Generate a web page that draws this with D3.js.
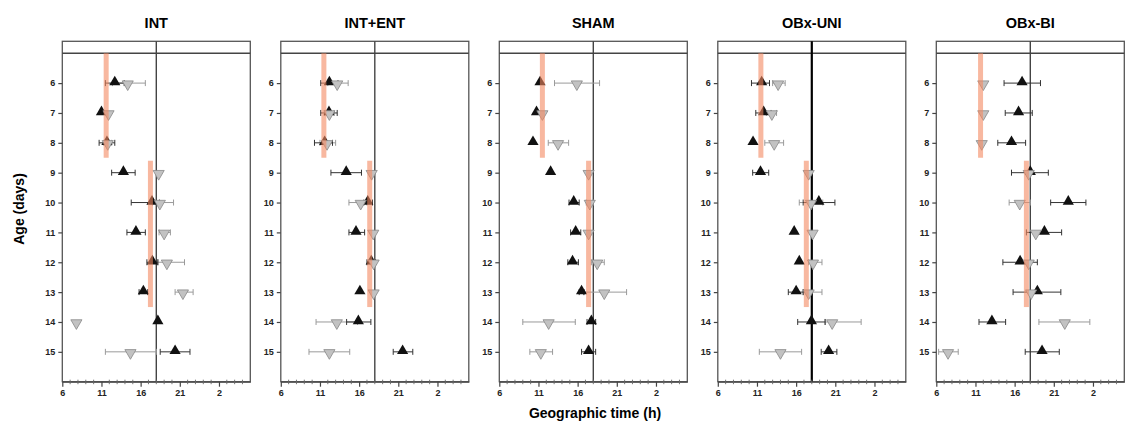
<!DOCTYPE html>
<html>
<head>
<meta charset="utf-8">
<script src="https://cdn.jsdelivr.net/npm/d3@7"></script>
<style>
  body { margin: 0; background: #fff; }
  svg { font-family: "Liberation Sans", Arial, sans-serif; }
  .tick text { font-size: 9px; font-weight: bold; fill: #222; }
</style>
</head>
<body>
<svg id="chart" width="1130" height="421"></svg>
<script>
const groups = ["INT", "INT+ENT", "SHAM", "OBx-UNI", "OBx-BI"];
const days = [6, 7, 8, 9, 10, 11, 12, 13, 14, 15];
const hourTicks = [6, 11, 16, 21, 26];

// black up triangles (mean + error range), one row per group, days 6..15
const blackMean = [
  [12.7, 11.0, 11.7, 13.8, 17.45, 15.4, 17.5, 16.35, 18.2, 20.4],
  [12.2, 12.15, 11.6, 14.35, 17.1, 15.6, 17.55, 16.1, 15.9, 21.55],
  [11.2, 10.75, 10.3, 12.55, 15.5, 15.75, 15.35, 16.5, 17.75, 17.4],
  [11.6, 11.85, 10.5, 11.45, 18.9, 15.75, 16.4, 16.0, 17.95, 20.15],
  [16.95, 16.5, 15.6, 18.0, 22.85, 19.8, 16.7, 18.9, 13.1, 19.5]
];
const blackLo = [
  [11.5, 11.0, 10.7, 12.3, 14.8, 14.25, 16.8, 15.8, 18.2, 18.5],
  [11.1, 11.1, 10.3, 12.4, 16.6, 14.7, 17.0, 16.1, 14.4, 20.35],
  [11.2, 10.75, 10.3, 12.55, 14.9, 15.1, 14.75, 16.2, 17.2, 16.5],
  [10.3, 10.85, 10.5, 10.45, 16.9, 15.75, 16.4, 15.0, 16.2, 19.2],
  [14.65, 14.8, 13.85, 15.6, 20.6, 17.5, 14.5, 15.8, 11.45, 17.35]
];
const blackHi = [
  [13.9, 11.0, 12.7, 15.3, 18.4, 16.6, 18.2, 16.9, 18.2, 22.3],
  [13.3, 13.2, 12.6, 16.3, 17.7, 16.7, 18.1, 16.1, 17.5, 22.85],
  [11.2, 10.75, 10.3, 12.55, 16.2, 16.4, 16.1, 16.8, 18.3, 18.3],
  [12.6, 12.8, 10.5, 12.5, 20.95, 15.75, 16.4, 16.9, 19.7, 21.2],
  [19.3, 18.25, 17.4, 20.3, 25.1, 22.0, 18.9, 21.9, 14.85, 21.7]
];

// grey down triangles
const greyMean = [
  [14.35, 11.9, 11.8, 18.3, 18.45, 19.0, 19.35, 21.4, 7.8, 14.7],
  [13.2, 12.2, 11.9, 17.6, 16.2, 17.8, 17.85, 17.85, 13.15, 12.2],
  [15.9, 11.5, 13.5, 17.4, 17.55, 17.4, 18.5, 19.4, 12.3, 11.3],
  [13.7, 12.9, 13.2, 17.6, 17.9, 18.1, 18.15, 17.6, 20.6, 14.0],
  [12.0, 12.0, 11.8, 17.8, 16.65, 18.7, 17.8, 18.1, 22.4, 7.5]
];
const greyLo = [
  [12.4, 11.9, 11.3, 18.3, 17.5, 18.35, 18.2, 20.4, 7.8, 11.5],
  [12.0, 11.6, 11.0, 17.6, 14.7, 17.8, 17.85, 17.85, 10.5, 9.6],
  [13.05, 11.5, 12.25, 17.4, 17.1, 17.4, 17.75, 16.8, 9.0, 9.9],
  [13.0, 12.2, 12.0, 17.6, 16.4, 18.1, 17.6, 16.9, 19.7, 11.3],
  [12.0, 12.0, 11.8, 17.8, 15.3, 18.7, 17.8, 18.1, 19.1, 6.3]
];
const greyHi = [
  [16.6, 11.9, 12.3, 18.3, 20.2, 19.8, 21.6, 22.7, 7.8, 18.0],
  [14.6, 12.8, 13.0, 17.6, 17.0, 17.8, 17.85, 17.85, 15.8, 14.8],
  [18.8, 11.5, 14.85, 17.4, 18.0, 17.4, 19.4, 22.25, 15.7, 12.8],
  [14.6, 13.5, 14.4, 17.6, 19.4, 18.1, 19.3, 19.3, 24.3, 16.7],
  [12.0, 12.0, 11.8, 17.8, 18.0, 18.7, 17.8, 18.1, 25.6, 8.8]
];

// shaded phase bands (hour) : days 5-8.5 and 8.6-13.5
const bandEarly = [11.6, 11.5, 11.5, 11.5, 11.65];
const bandLate = [17.25, 17.35, 17.4, 17.3, 17.5];
const bandDays = [[5, 8.5], [8.6, 13.5]];
const refHour = 18;

const svg = d3.select("#chart");
const panelW = 188, panelTop = 41.3, panelBottom = 381.7;
const firstLeft = 62.3, step = 218.5;

const x = d3.scaleLinear().domain([6, 30]).range([0, panelW]);
const y = d3.scaleLinear().domain([4.6, 16]).range([panelTop, panelBottom]);

groups.forEach(function (name, gi) {
  const g = svg.append("g").attr("transform", "translate(" + (firstLeft + gi * step) + ",0)");

  // frame + header line
  g.append("rect")
    .attr("x", 0).attr("y", panelTop)
    .attr("width", panelW).attr("height", panelBottom - panelTop)
    .attr("fill", "none").attr("stroke", "#555").attr("stroke-width", 1.3);
  g.append("line")
    .attr("x1", 0).attr("x2", panelW)
    .attr("y1", y(5)).attr("y2", y(5))
    .attr("stroke", "#444").attr("stroke-width", 1.3);

  // reference line at 18h (OBx-UNI one is darker/thicker)
  g.append("line")
    .attr("x1", x(refHour)).attr("x2", x(refHour))
    .attr("y1", panelTop).attr("y2", panelBottom)
    .attr("stroke", gi === 3 ? "#000" : "#444")
    .attr("stroke-width", gi === 3 ? 2.2 : 1.4);

  // x axis
  const xAxis = d3.axisBottom(x)
    .tickValues(hourTicks)
    .tickFormat(function (h) { return h >= 24 ? h - 24 : h; })
    .tickSizeInner(5).tickSizeOuter(0).tickPadding(3);
  const ax = g.append("g").attr("transform", "translate(0," + panelBottom + ")").call(xAxis);
  ax.select(".domain").attr("stroke", "#444").attr("stroke-width", 1.3);
  ax.selectAll(".tick line").attr("stroke", "#444").attr("stroke-width", 1.2);

  // minor hour ticks
  g.append("g").selectAll("line")
    .data(d3.range(7, 30).filter(function (h) { return hourTicks.indexOf(h) < 0; }))
    .enter().append("line")
    .attr("x1", function (d) { return x(d); }).attr("x2", function (d) { return x(d); })
    .attr("y1", panelBottom - 2).attr("y2", panelBottom + 2.5)
    .attr("stroke", "#666").attr("stroke-width", 0.9);

  // y axis
  const yAxis = d3.axisLeft(y).tickValues(days).tickSizeInner(4).tickSizeOuter(0).tickPadding(3);
  const ay = g.append("g").call(yAxis);
  ay.select(".domain").remove();
  ay.selectAll(".tick line").attr("stroke", "#444").attr("stroke-width", 1.2);

  // title
  g.append("text")
    .attr("x", panelW / 2).attr("y", 28)
    .attr("text-anchor", "middle")
    .attr("font-size", 14.5).attr("font-weight", "bold")
    .text(name);

  const rows = days.map(function (d, i) {
    return {
      day: d,
      bm: blackMean[gi][i], bl: blackLo[gi][i], bh: blackHi[gi][i],
      gm: greyMean[gi][i], gl: greyLo[gi][i], gh: greyHi[gi][i]
    };
  });

  // error bars, then markers
  function errBars(sel, lo, hi, colour) {
    const eb = sel.selectAll(null).data(rows.filter(function (r) { return r[hi] > r[lo]; }))
      .enter().append("g").attr("stroke", colour).attr("stroke-width", 1);
    eb.append("line")
      .attr("x1", function (r) { return x(r[lo]); }).attr("x2", function (r) { return x(r[hi]); })
      .attr("y1", function (r) { return y(r.day); }).attr("y2", function (r) { return y(r.day); });
    [lo, hi].forEach(function (k) {
      eb.append("line")
        .attr("x1", function (r) { return x(r[k]); }).attr("x2", function (r) { return x(r[k]); })
        .attr("y1", function (r) { return y(r.day) - 3; }).attr("y2", function (r) { return y(r.day) + 3; });
    });
  }
  errBars(g, "gl", "gh", "#9a9a9a");
  errBars(g, "bl", "bh", "#333");

  const up = d3.symbol().type(d3.symbolTriangle).size(54);
  g.selectAll(null).data(rows).enter().append("path")
    .attr("d", up)
    .attr("transform", function (r) { return "translate(" + x(r.bm) + "," + (y(r.day) - 1) + ")"; })
    .attr("fill", "#111");

  g.selectAll(null).data(rows).enter().append("path")
    .attr("d", up)
    .attr("transform", function (r) { return "translate(" + x(r.gm) + "," + (y(r.day) + 1) + ") rotate(180)"; })
    .attr("fill", "#c2c2c2").attr("stroke", "#888").attr("stroke-width", 0.8);

  // orange bands on top, semi transparent
  [bandEarly[gi], bandLate[gi]].forEach(function (h, k) {
    g.append("rect")
      .attr("x", x(h) - 2.5).attr("width", 5)
      .attr("y", y(bandDays[k][0])).attr("height", y(bandDays[k][1]) - y(bandDays[k][0]))
      .attr("fill", "rgb(243,137,97)").attr("fill-opacity", 0.6);
  });
});

// shared axis titles
svg.append("text")
  .attr("transform", "translate(24,209) rotate(-90)")
  .attr("text-anchor", "middle")
  .attr("font-size", 14).attr("font-weight", "bold")
  .text("Age (days)");

svg.append("text")
  .attr("x", 595).attr("y", 417.5)
  .attr("text-anchor", "middle")
  .attr("font-size", 14).attr("font-weight", "bold")
  .text("Geographic time (h)");
</script>
</body>
</html>
